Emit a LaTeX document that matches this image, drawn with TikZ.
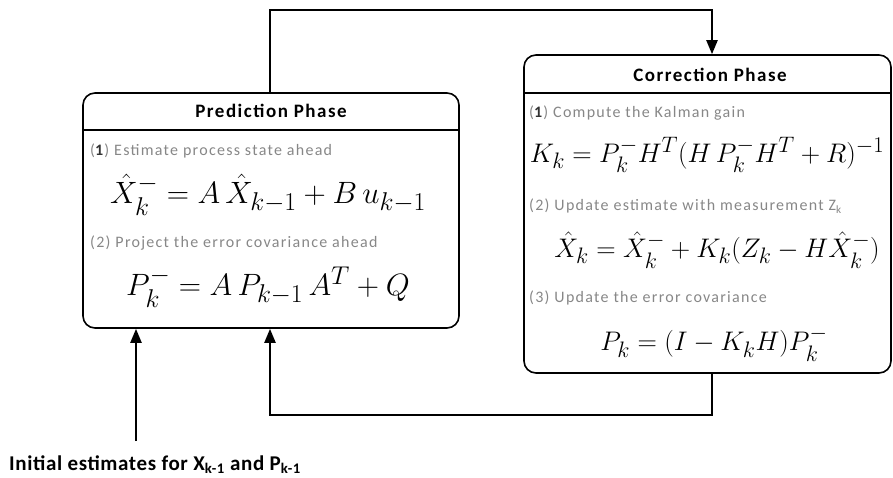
\documentclass[tikz,border=0pt]{standalone}
\usepackage{amsmath}
\usepackage{graphicx}
\usepackage{fontspec}
\setmainfont{Carlito}
\newfontfamily\headfont[LetterSpace=8]{Carlito}
\newfontfamily\stepfont[LetterSpace=8]{Carlito}
\newfontfamily\initfont[LetterSpace=3]{Carlito}
\usetikzlibrary{arrows.meta}
\definecolor{stepgray}{RGB}{135,135,135}
\newcommand{\peq}[1]{\scalebox{1.24}{$#1$}}
\newcommand{\ceq}[1]{\scalebox{1.08}{$#1$}}
\begin{document}
\begin{tikzpicture}[x=1pt,y=-1pt,
  phasebox/.style={draw,line width=1.6pt,rounded corners=12pt,inner sep=0pt},
  conn/.style={line width=2.2pt},
  arr/.style={conn,-{Triangle[length=14pt,width=11pt]}},
  headtxt/.style={font=\headfont\fontsize{19}{21}\selectfont\bfseries,anchor=center},
  steptxt/.style={font=\stepfont\fontsize{16}{18}\selectfont,text=stepgray,anchor=west,inner sep=0pt},
  eqtxt/.style={font=\fontsize{24.88}{28}\selectfont,anchor=center,inner sep=0pt}]
\useasboundingbox (0,0) rectangle (893,477);
% boxes
\node[phasebox,minimum width=376pt,minimum height=235pt] (pred) at (271,210.5) {};
\node[phasebox,minimum width=367pt,minimum height=318pt] (corr) at (707.5,214) {};
\draw[line width=1.6pt] (pred.west |- 0,130) coordinate (pl) -- (pred.east |- 0,130) coordinate (pr);
\draw[line width=1.6pt] (corr.west |- 0,93) coordinate (cl) -- (corr.east |- 0,93) coordinate (cr);
% headers
\node[headtxt] (predh) at (271,111) {Prediction Phase};
\node[headtxt] (corrh) at (710,75) {Correction Phase};
% prediction contents
\node[steptxt] (p1) at (90,151) {(\textcolor{black!80}{\textbf{1}}) Estimate process state ahead};
\node[eqtxt] (pe1) at (268,195) {\peq{\hat{X}_k^{-} = A\,\hat{X}_{k-1} + B\,u_{k-1}}};
\node[steptxt] (p2) at (90,243) {(2) Project the error covariance ahead};
\node[eqtxt] (pe2) at (268,287) {\peq{P_k^{-} = A\,P_{k-1}\,A^{T} + Q}};
% correction contents
\node[steptxt] (c1) at (529,113) {(\textcolor{black!80}{\textbf{1}}) Compute the Kalman gain};
\node[eqtxt] (ce1) at (707,155) {\ceq{K_k = P_k^{-} H^{T}(H\,P_k^{-} H^{T} + R)^{-1}}};
\node[steptxt] (c2) at (529,206) {(2) Update estimate with measurement Z\textsubscript{k}};
\node[eqtxt] (ce2) at (717,250) {\ceq{\hat{X}_k = \hat{X}_k^{-} + K_k(Z_k - H\hat{X}_k^{-})}};
\node[steptxt] (c3) at (529,298) {(3) Update the error covariance};
\node[eqtxt] (ce3) at (714,344) {\ceq{P_k = (I - K_k H)P_k^{-}}};
% initial label
\node[font=\initfont\fontsize{21}{24}\selectfont\bfseries,anchor=west,inner sep=0pt] (init) at (9,465)
  {Initial estimates for X\textsubscript{k-1} and P\textsubscript{k-1}};
% connectors
\coordinate (t1) at (270,10);
\coordinate (t2) at (712,10);
\coordinate (b1) at (712,415);
\coordinate (b2) at (270,415);
\coordinate (i0) at (136,441);
\draw[arr] (pred.north -| t1) -- (t1) -- (t2) -- (corr.north -| t2);
\draw[arr] (corr.south -| b1) -- (b1) -- (b2) -- (pred.south -| b2);
\draw[arr] (i0) -- (pred.south -| i0);
\end{tikzpicture}
\end{document}
